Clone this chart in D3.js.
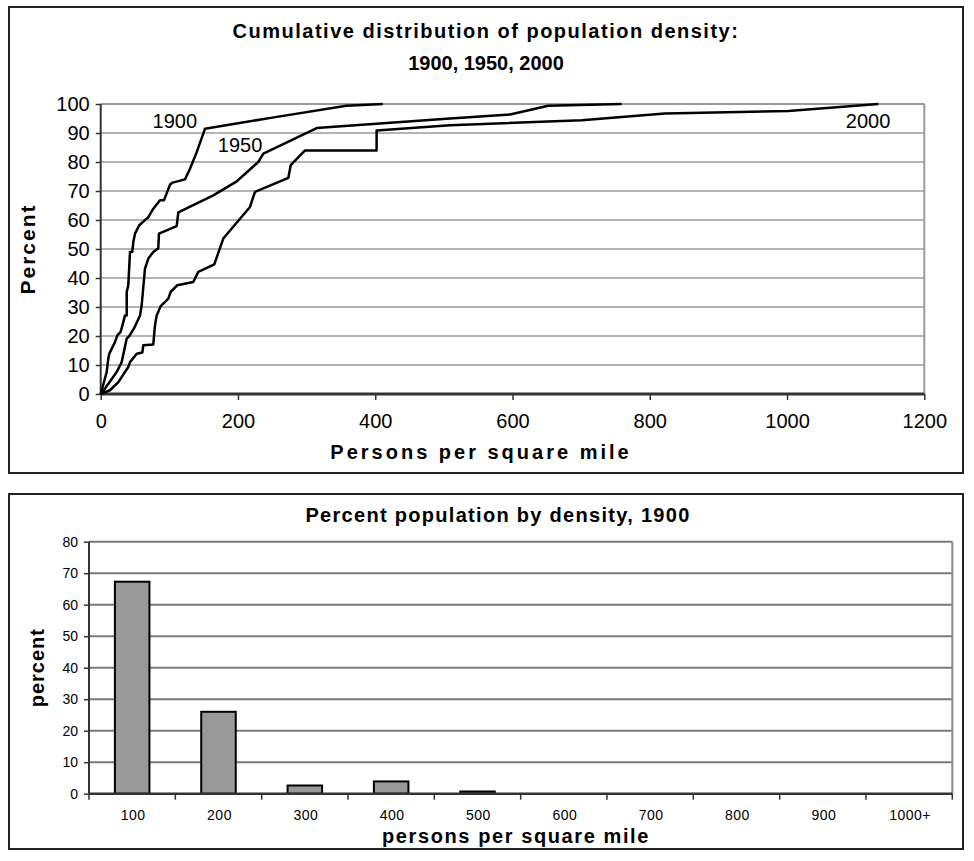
<!DOCTYPE html>
<html><head><meta charset="utf-8">
<script src="https://cdn.jsdelivr.net/npm/d3@7"></script>
<style>body{margin:0;background:#fff}svg{display:block}text{font-family:"Liberation Sans",Arial,sans-serif;fill:#000}</style>
</head><body>
<svg id="c" width="974" height="861"></svg>
<script>
// ---- Top chart data: cumulative distribution ----
const x1900 = [0, 8.7, 11.1, 12.5, 20.8, 24.2, 29.1, 32.9, 35.4, 37.9, 37.9, 40.2, 42.7, 46, 47.5, 50, 56.2, 69.4, 76.6, 86.4, 92.2, 101, 104.9, 122.8, 130.1, 139.9, 152, 250, 358, 411];
const y1900 = [0, 7.6, 12.2, 13.9, 17.9, 20.2, 21.4, 24.8, 27.1, 27.1, 35.2, 37.5, 49, 49, 52.4, 55.3, 58.2, 61, 63.9, 66.8, 66.8, 72.2, 72.9, 74, 77.7, 83.4, 91.5, 95.3, 99.4, 100];
const x1950 = [0, 6.3, 23.3, 30.6, 37.9, 41.7, 48.5, 57.3, 59.7, 64.5, 69.4, 76.6, 83.9, 84.9, 110.7, 113.1, 164, 198.2, 229.6, 237, 314.7, 509, 596.5, 652, 759];
const y1950 = [0, 1.9, 7.6, 11, 19.1, 20, 22.6, 27.1, 30.6, 43.2, 46.7, 49, 50.3, 55.3, 57.9, 62.6, 68.5, 73.3, 80, 82.9, 91.7, 95, 96.4, 99.4, 100];
const x2000 = [0, 13.5, 25.7, 40.2, 42.7, 52.5, 60.6, 62.1, 76.6, 79.1, 81.6, 87.4, 98.5, 102, 111.6, 134.9, 142.2, 165.5, 178.6, 217.5, 224.8, 273.4, 276.8, 297.7, 402, 402, 509, 700.8, 822, 1002, 1133];
const y2000 = [0, 1.3, 4.1, 9.3, 11, 13.9, 14.3, 16.8, 17.1, 23.7, 27.1, 30.3, 32.9, 35.2, 37.5, 38.6, 42.1, 44.7, 53.6, 64.5, 69.7, 74.5, 78.9, 84, 84, 90.9, 92.7, 94.4, 96.7, 97.6, 100];
const seriesNames = ["1900", "1950", "2000"];
const xTicksTop = [0, 200, 400, 600, 800, 1000, 1200];
const yTicksTop = [0, 10, 20, 30, 40, 50, 60, 70, 80, 90, 100];

// ---- Bottom chart data: histogram 1900 ----
const categories = ["100", "200", "300", "400", "500", "600", "700", "800", "900", "1000+"];
const pct1900 = [67.3, 26.0, 2.6, 3.9, 0.7, 0, 0, 0, 0, 0];
const yTicksBottom = [0, 10, 20, 30, 40, 50, 60, 70, 80];

const svg = d3.select("#c");

// ===== Top panel =====
svg.append("rect").attr("x", 9).attr("y", 7).attr("width", 954).attr("height", 466)
  .attr("fill", "#fff").attr("stroke", "#222").attr("stroke-width", 2);

const t = {l: 100.7, r: 924.3, t: 104, b: 394};
const xs = d3.scaleLinear().domain([0, 1200]).range([t.l, t.r]);
const ys = d3.scaleLinear().domain([0, 100]).range([t.b, t.t]);

const gTop = svg.append("g");
gTop.selectAll("line.grid").data(yTicksTop.filter(d => d > 0)).join("line")
  .attr("x1", t.l).attr("x2", t.r).attr("y1", d => ys(d)).attr("y2", d => ys(d))
  .attr("stroke", "#b4b4b4").attr("stroke-width", 2);
gTop.append("line").attr("x1", t.r).attr("x2", t.r).attr("y1", t.t).attr("y2", t.b)
  .attr("stroke", "#9a9a9a").attr("stroke-width", 2);
gTop.append("line").attr("x1", t.l).attr("x2", t.r).attr("y1", t.t).attr("y2", t.t)
  .attr("stroke", "#9a9a9a").attr("stroke-width", 2);

const xAxisTop = d3.axisBottom(xs).tickValues(xTicksTop).tickSize(6).tickPadding(14).tickFormat(d3.format("d"));
const gx = gTop.append("g").attr("transform", `translate(0,${t.b})`).call(xAxisTop);
gx.select(".domain").remove();
gx.selectAll(".tick line").attr("stroke", "#333").attr("stroke-width", 1.5);
gx.selectAll("text").attr("font-size", 20).attr("font-family", "Liberation Sans, Arial, sans-serif").attr("fill", "#000");
gTop.append("line").attr("x1", t.l).attr("x2", t.r).attr("y1", t.b).attr("y2", t.b).attr("stroke", "#333").attr("stroke-width", 3);

const yAxisTop = d3.axisLeft(ys).tickValues(yTicksTop).tickSize(5).tickPadding(6);
const gy = gTop.append("g").attr("transform", `translate(${t.l},0)`).call(yAxisTop);
gy.select(".domain").remove();
gy.selectAll(".tick line").attr("stroke", "#333").attr("stroke-width", 1.5);
gy.selectAll("text").attr("font-size", 20).attr("font-family", "Liberation Sans, Arial, sans-serif").attr("fill", "#000");
gTop.append("line").attr("x1", t.l).attr("x2", t.l).attr("y1", t.t).attr("y2", t.b).attr("stroke", "#333").attr("stroke-width", 2);

const line = d3.line().x(d => xs(d[0])).y(d => ys(d[1]));
const allSeries = [d3.zip(x1900, y1900), d3.zip(x1950, y1950), d3.zip(x2000, y2000)];
gTop.selectAll("path.ser").data(allSeries).join("path").attr("class", "ser")
  .attr("d", line).attr("fill", "none").attr("stroke", "#000").attr("stroke-width", 2.5)
  .attr("stroke-linejoin", "round");

const labelPos = [[108, 91.8], [203, 83.6], [1118, 91.8]];
gTop.selectAll("text.lab").data(seriesNames).join("text").attr("class", "lab")
  .attr("x", (d, i) => xs(labelPos[i][0])).attr("y", (d, i) => ys(labelPos[i][1]))
  .attr("text-anchor", "middle").attr("font-size", 20).text(d => d);

svg.append("text").attr("x", 486).attr("y", 38).attr("text-anchor", "middle")
  .attr("font-size", 20).attr("font-weight", "bold").attr("letter-spacing", 1.5).text("Cumulative distribution of population density:");
svg.append("text").attr("x", 486).attr("y", 70).attr("text-anchor", "middle")
  .attr("font-size", 20).attr("font-weight", "bold").text("1900, 1950, 2000");
svg.append("text").attr("x", 481).attr("y", 459).attr("text-anchor", "middle")
  .attr("font-size", 20).attr("font-weight", "bold").attr("letter-spacing", 3).text("Persons per square mile");
svg.append("text").attr("transform", `translate(35,${(t.t + t.b) / 2}) rotate(-90)`).attr("text-anchor", "middle")
  .attr("font-size", 21).attr("font-weight", "bold").attr("letter-spacing", 2).text("Percent");

// ===== Bottom panel =====
svg.append("rect").attr("x", 9).attr("y", 494).attr("width", 954).attr("height", 355)
  .attr("fill", "#fff").attr("stroke", "#222").attr("stroke-width", 2);

const b = {l: 89, r: 952.3, t: 541.7, b: 793.7};
const xb = d3.scaleBand().domain(categories).range([b.l, b.r]).paddingInner(0.6).paddingOuter(0.3);
const xbTick = d3.scaleBand().domain(categories).range([b.l, b.r]);
const yb = d3.scaleLinear().domain([0, 80]).range([b.b, b.t]);

const gB = svg.append("g");
gB.selectAll("line.grid").data(yTicksBottom.filter(d => d > 0)).join("line")
  .attr("x1", b.l).attr("x2", b.r).attr("y1", d => yb(d)).attr("y2", d => yb(d))
  .attr("stroke", "#7a7a7a").attr("stroke-width", 2);
gB.append("line").attr("x1", b.r).attr("x2", b.r).attr("y1", b.t).attr("y2", b.b)
  .attr("stroke", "#8a8a8a").attr("stroke-width", 2);

gB.selectAll("rect.bar").data(pct1900.map((v, i) => ({c: categories[i], v}))).join("rect")
  .attr("x", d => xb(d.c)).attr("width", xb.bandwidth())
  .attr("y", d => yb(d.v)).attr("height", d => yb(0) - yb(d.v))
  .attr("fill", "#999999").attr("stroke", "#000").attr("stroke-width", 2);

const bounds = categories.map(c => xbTick(c)).concat([b.r]);
gB.selectAll("line.ct").data(bounds).join("line")
  .attr("x1", d => d).attr("x2", d => d).attr("y1", b.b).attr("y2", b.b + 6)
  .attr("stroke", "#333").attr("stroke-width", 1.5);
gB.append("line").attr("x1", b.l).attr("x2", b.r).attr("y1", b.b).attr("y2", b.b).attr("stroke", "#333").attr("stroke-width", 2.5);
gB.selectAll("text.cl").data(categories).join("text")
  .attr("x", d => xbTick(d) + xbTick.bandwidth() / 2 + 1).attr("y", 820)
  .attr("text-anchor", "middle").attr("font-size", 14).attr("letter-spacing", 0.5).text(d => d);

const yAxisB = d3.axisLeft(yb).tickValues(yTicksBottom).tickSize(5).tickPadding(6);
const gyb = gB.append("g").attr("transform", `translate(${b.l},0)`).call(yAxisB);
gyb.select(".domain").remove();
gyb.selectAll(".tick line").attr("stroke", "#333").attr("stroke-width", 1.5);
gyb.selectAll("text").attr("font-size", 14).attr("font-family", "Liberation Sans, Arial, sans-serif").attr("fill", "#000");
gB.append("line").attr("x1", b.l).attr("x2", b.l).attr("y1", b.t).attr("y2", b.b).attr("stroke", "#333").attr("stroke-width", 2);

svg.append("text").attr("x", 498).attr("y", 522).attr("text-anchor", "middle")
  .attr("font-size", 20).attr("font-weight", "bold").attr("letter-spacing", 1.3).text("Percent population by density, 1900");
svg.append("text").attr("x", 516).attr("y", 843).attr("text-anchor", "middle")
  .attr("font-size", 20).attr("font-weight", "bold").attr("letter-spacing", 1.6).text("persons per square mile");
svg.append("text").attr("transform", `translate(44,${(b.t + b.b) / 2}) rotate(-90)`).attr("text-anchor", "middle")
  .attr("font-size", 20).attr("font-weight", "bold").attr("letter-spacing", 1).text("percent");
</script>
</body></html>
